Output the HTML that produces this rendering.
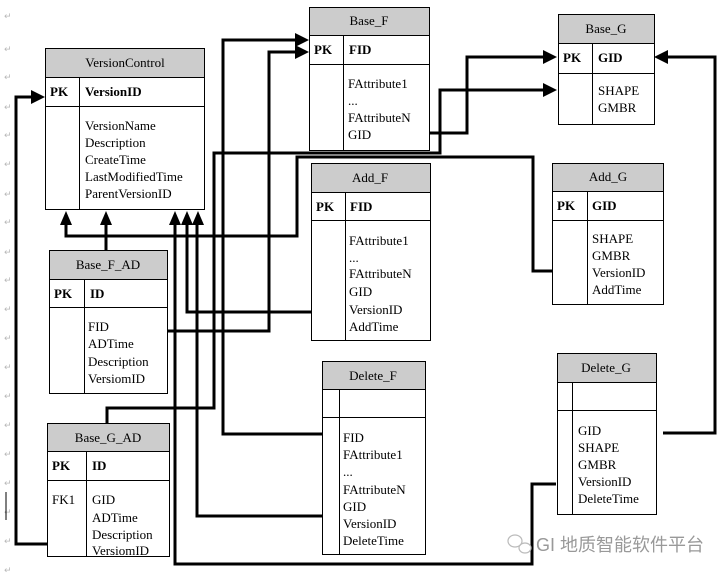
<!DOCTYPE html>
<html><head><meta charset="utf-8"><style>
html,body{margin:0;padding:0;background:#fff;}
svg{display:block;}
text{font-family:"Liberation Serif",serif;font-size:13px;fill:#000;}
.b{font-weight:bold;}
g.m text{fill:#b8b8b8;font-size:9px;font-family:"DejaVu Sans",sans-serif;}
.hd{fill:#cccccc;stroke:#000;stroke-width:1;}
.bx{fill:#fff;stroke:#000;stroke-width:1;}
.ln{fill:none;stroke:#000;stroke-width:3;}
.t{stroke:#000;stroke-width:1;}
</style></head><body>
<svg width="728" height="576" viewBox="0 0 728 576" xmlns="http://www.w3.org/2000/svg">
<g class="m">
<text x="4" y="19">↵</text><text x="4" y="52">↵</text><text x="4" y="80">↵</text><text x="4" y="110">↵</text><text x="4" y="138">↵</text><text x="4" y="167">↵</text><text x="4" y="197">↵</text><text x="4" y="225">↵</text><text x="4" y="255">↵</text><text x="4" y="283">↵</text><text x="4" y="312">↵</text><text x="4" y="341">↵</text><text x="4" y="370">↵</text><text x="4" y="399">↵</text><text x="4" y="428">↵</text><text x="4" y="457">↵</text><text x="4" y="486">↵</text><text x="4" y="515">↵</text><text x="4" y="544">↵</text><text x="4" y="573">↵</text>
</g>
<line x1="6" y1="492" x2="6" y2="520" stroke="#000" stroke-width="1"/>

<g class="ln">
<polyline points="47,544 16,544 16,97 32,97"/>
<polyline points="66,222 66,236 297,236 297,157 533,157 533,271 552,271"/>
<polyline points="106,222 106,250"/>
<polyline points="175,222 175,564 532,564 532,484 556,484"/>
<polyline points="187,222 187,312 311,312"/>
<polyline points="197,222 197,516 322,516"/>
<polyline points="107,423 107,408 214,408 214,153 440,153 440,90 545,90"/>
<polyline points="322,434 223,434 223,40 296,40"/>
<polyline points="167,331 269,331 269,52 296,52"/>
<polyline points="429,133 467,133 467,57 545,57"/>
<polyline points="663,433 715,433 715,57 667,57"/>
</g>
<g fill="#000">
<polygon points="45,97 31,90 31,104"/>
<polygon points="66,211 60,225 72,225"/>
<polygon points="106,211 100,225 112,225"/>
<polygon points="175,211 169,225 181,225"/>
<polygon points="187,211 181,225 193,225"/>
<polygon points="198,211 192,225 204,225"/>
<polygon points="309,40 295,33 295,47"/>
<polygon points="309,52 295,45 295,59"/>
<polygon points="557,57 543,50 543,64"/>
<polygon points="557,90 543,83 543,97"/>
<polygon points="654,57 668,50 668,64"/>
</g>

<rect class="hd" x="45.5" y="48.5" width="159" height="29"/>
<rect class="bx" x="45.5" y="77.5" width="159" height="132"/>
<line class="t" x1="45" y1="106.5" x2="204" y2="106.5"/><line class="t" x1="79.5" y1="77" x2="79.5" y2="209"/>
<text x="125" y="67" text-anchor="middle">VersionControl</text>
<text class="b" x="50" y="96">PK</text><text class="b" x="85" y="96">VersionID</text>
<text x="85" y="130">VersionName</text><text x="85" y="147">Description</text><text x="85" y="164">CreateTime</text><text x="85" y="181">LastModifiedTime</text><text x="85" y="198">ParentVersionID</text>

<rect class="hd" x="309.5" y="7.5" width="120" height="28"/>
<rect class="bx" x="309.5" y="35.5" width="120" height="115"/>
<line class="t" x1="309" y1="64.5" x2="429" y2="64.5"/><line class="t" x1="343.5" y1="35" x2="343.5" y2="150"/>
<text x="369" y="25" text-anchor="middle">Base_F</text>
<text class="b" x="314" y="54">PK</text><text class="b" x="349" y="54">FID</text>
<text x="348" y="88">FAttribute1</text><text x="348" y="105">...</text><text x="348" y="122">FAttributeN</text><text x="348" y="139">GID</text>

<rect class="hd" x="558.5" y="14.5" width="96" height="29"/>
<rect class="bx" x="558.5" y="43.5" width="96" height="81"/>
<line class="t" x1="558" y1="73.5" x2="654" y2="73.5"/><line class="t" x1="592.5" y1="43" x2="592.5" y2="124"/>
<text x="606" y="33" text-anchor="middle">Base_G</text>
<text class="b" x="563" y="62">PK</text><text class="b" x="598" y="62">GID</text>
<text x="598" y="95">SHAPE</text><text x="598" y="112">GMBR</text>

<rect class="hd" x="311.5" y="163.5" width="119" height="29"/>
<rect class="bx" x="311.5" y="192.5" width="119" height="148"/>
<line class="t" x1="311" y1="220.5" x2="430" y2="220.5"/><line class="t" x1="345.5" y1="192" x2="345.5" y2="340"/>
<text x="370" y="182" text-anchor="middle">Add_F</text>
<text class="b" x="316" y="211">PK</text><text class="b" x="350" y="211">FID</text>
<text x="349" y="245">FAttribute1</text><text x="349" y="262">...</text><text x="349" y="278">FAttributeN</text><text x="349" y="296">GID</text><text x="349" y="314">VersionID</text><text x="349" y="331">AddTime</text>

<rect class="hd" x="552.5" y="163.5" width="111" height="28"/>
<rect class="bx" x="552.5" y="191.5" width="111" height="113"/>
<line class="t" x1="552" y1="220.5" x2="663" y2="220.5"/><line class="t" x1="587.5" y1="191" x2="587.5" y2="304"/>
<text x="608" y="181" text-anchor="middle">Add_G</text>
<text class="b" x="557" y="210">PK</text><text class="b" x="592" y="210">GID</text>
<text x="592" y="243">SHAPE</text><text x="592" y="260">GMBR</text><text x="592" y="277">VersionID</text><text x="592" y="294">AddTime</text>

<rect class="hd" x="49.5" y="250.5" width="118" height="29"/>
<rect class="bx" x="49.5" y="279.5" width="118" height="114"/>
<line class="t" x1="49" y1="307.5" x2="167" y2="307.5"/><line class="t" x1="84.5" y1="279" x2="84.5" y2="393"/>
<text x="108" y="269" text-anchor="middle">Base_F_AD</text>
<text class="b" x="54" y="298">PK</text><text class="b" x="90" y="298">ID</text>
<text x="88" y="331">FID</text><text x="88" y="348">ADTime</text><text x="88" y="366">Description</text><text x="88" y="383">VersiomID</text>

<rect class="hd" x="47.5" y="423.5" width="122" height="28"/>
<rect class="bx" x="47.5" y="451.5" width="122" height="105"/>
<line class="t" x1="47" y1="480.5" x2="169" y2="480.5"/><line class="t" x1="86.5" y1="451" x2="86.5" y2="556"/>
<text x="108" y="442" text-anchor="middle">Base_G_AD</text>
<text class="b" x="52" y="470">PK</text><text class="b" x="92" y="470">ID</text>
<text x="52" y="504">FK1</text>
<text x="92" y="504">GID</text><text x="92" y="522">ADTime</text><text x="92" y="539">Description</text><text x="92" y="555">VersiomID</text>

<rect class="hd" x="322.5" y="361.5" width="103" height="28"/>
<rect class="bx" x="322.5" y="389.5" width="103" height="165"/>
<line class="t" x1="322" y1="417.5" x2="425" y2="417.5"/><line class="t" x1="339.5" y1="389" x2="339.5" y2="554"/>
<text x="373" y="380" text-anchor="middle">Delete_F</text>
<text x="343" y="442">FID</text><text x="343" y="459">FAttribute1</text><text x="343" y="476">...</text><text x="343" y="494">FAttributeN</text><text x="343" y="511">GID</text><text x="343" y="528">VersionID</text><text x="343" y="545">DeleteTime</text>

<rect class="hd" x="557.5" y="353.5" width="99" height="29"/>
<rect class="bx" x="557.5" y="382.5" width="99" height="132"/>
<line class="t" x1="557" y1="410.5" x2="656" y2="410.5"/><line class="t" x1="572.5" y1="382" x2="572.5" y2="514"/>
<text x="606" y="372" text-anchor="middle">Delete_G</text>
<text x="578" y="435">GID</text><text x="578" y="452">SHAPE</text><text x="578" y="469">GMBR</text><text x="578" y="486">VersionID</text><text x="578" y="503">DeleteTime</text>

<g fill="none" stroke="#bbb" stroke-width="1.2">
<ellipse cx="515" cy="541" rx="7" ry="6"/><ellipse cx="525" cy="548" rx="6" ry="5"/>
</g>
<text x="536" y="551" style="font-family:'Liberation Sans','Noto Sans CJK SC',sans-serif;font-size:18px;fill:#999;">GI 地质智能软件平台</text>
</svg>
</body></html>
